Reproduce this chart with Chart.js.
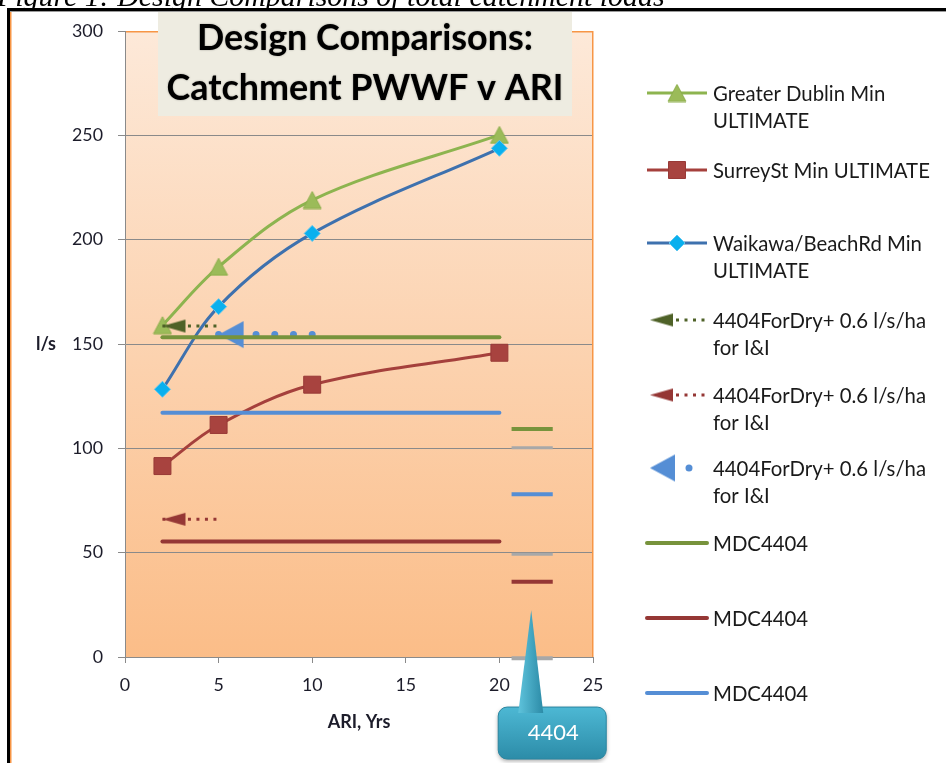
<!DOCTYPE html>
<html>
<head>
<meta charset="utf-8">
<script src="https://cdn.jsdelivr.net/npm/chart.js@4.4.1/dist/chart.umd.min.js"></script>
<style>
  html, body { margin: 0; padding: 0; background: #fff; overflow: hidden; }
  #c { display: block; }
</style>
</head>
<body>
<canvas id="c" width="946" height="763" style="width:946px;height:763px"></canvas>
<script>
// ---------------- DATA ----------------
const ariYears = [2, 5, 10, 20];
const greaterDublinMin = [159, 187, 219, 250.2];
const surreyStMin = [91.5, 111.2, 130.5, 145.8];
const waikawaBeachRdMin = [128.3, 167.9, 203, 243.8];

const forDryGreenX = [2, 5];
const forDryGreenY = [158.6, 158.6];
const forDryRedX = [2, 5];
const forDryRedY = [66, 66];
const forDryBlueX = [5, 10];
const forDryBlueY = [154.5, 154.5];

const mdcX = [2, 20];
const mdcGreenY = [153.2, 153.2];
const mdcRedY = [55.3, 55.3];
const mdcBlueY = [117.1, 117.1];

const ref4404X = [20.65, 22.85];
const ref4404Green = [109.3, 109.3];
const ref4404Blue = [78, 78];
const ref4404Red = [36.1, 36.1];
const ref4404Grey100 = [100.3, 100.3];
const ref4404Grey50 = [49.2, 49.2];
const ref4404Grey0 = [-0.6, -0.6];

const xTickValues = [0, 5, 10, 15, 20, 25];
const yTickValues = [0, 50, 100, 150, 200, 250, 300];

const seriesLabels = [
  'Greater Dublin Min\nULTIMATE',
  'SurreySt Min ULTIMATE',
  'Waikawa/BeachRd Min\nULTIMATE',
  '4404ForDry+ 0.6 l/s/ha\nfor I&I',
  '4404ForDry+ 0.6 l/s/ha\nfor I&I',
  '4404ForDry+ 0.6 l/s/ha\nfor I&I',
  'MDC4404',
  'MDC4404',
  'MDC4404'
];
const chartTitleLines = ['Design Comparisons:', 'Catchment PWWF v ARI'];
const xAxisTitle = 'ARI, Yrs';
const yAxisTitle = 'l/s';
const calloutText = '4404';
const calloutAnchor = [21.7, 22.5];
const captionText = 'Figure 1: Design Comparisons of total catchment loads';

// ---------------- HELPERS ----------------
const measureCtx = document.createElement('canvas').getContext('2d');
function fitSize(text, width, weight, family) {
  measureCtx.font = `${weight} 100px ${family}`;
  return 100 * width / measureCtx.measureText(text).width;
}
const pts = (xs, ys) => xs.map((x, i) => ({ x: x, y: ys[i] }));

function makeArrow(color, len, h) {
  const c = document.createElement('canvas');
  c.width = Math.ceil(len * 2) + 2; c.height = Math.ceil(h) + 2;
  const g = c.getContext('2d');
  const cx = c.width / 2, cy = c.height / 2;
  g.fillStyle = color;
  g.beginPath();
  g.moveTo(cx, cy);
  g.lineTo(cx + len, cy - h / 2);
  g.lineTo(cx + len, cy + h / 2);
  g.closePath();
  g.fill();
  return c;
}
function makeTriangle(fill, stroke, w, h) {
  const c = document.createElement('canvas');
  c.width = w + 2; c.height = h + 2;
  const g = c.getContext('2d');
  g.fillStyle = fill; g.strokeStyle = stroke; g.lineWidth = 1;
  g.beginPath();
  g.moveTo(c.width / 2, 1);
  g.lineTo(c.width - 1, c.height - 1);
  g.lineTo(1, c.height - 1);
  g.closePath();
  g.fill(); g.stroke();
  return c;
}

const triGreen = makeTriangle('#9BBB59', '#8CAD4B', 18, 17);
const arrowGreen = makeArrow('#4F6228', 23, 13);
const arrowRed = makeArrow('#953735', 23, 13);
const arrowBlue = makeArrow('#558ED5', 25, 27);

const tickFontSize = fitSize('300', 31, 'normal', 'Lato');
const legendFontSize = fitSize('SurreySt Min ULTIMATE', 217, 'normal', 'Lato');
const titleFontSize = fitSize(chartTitleLines[1], 397, 'bold', 'Lato');
const captionFontSize = fitSize(captionText, 668, 'italic', '"Liberation Serif"');

// legend layout (symbol centre y for each dataset)
const legendSymbolY = [93, 170, 243, 320, 395, 468, 543, 618, 693];

// ---------------- PLUGIN ----------------
const decor = {
  id: 'decor',
  beforeDraw(chart) {
    const { ctx, chartArea: a } = chart;
    ctx.save();
    ctx.fillStyle = '#fff';
    ctx.fillRect(0, 0, chart.width, chart.height);
    const g = ctx.createLinearGradient(0, a.top, 0, a.bottom);
    g.addColorStop(0, '#FDE9D9');
    g.addColorStop(1, '#FBBD88');
    ctx.fillStyle = g;
    ctx.fillRect(a.left, a.top, a.right - a.left, a.bottom - a.top);
    ctx.restore();
  },
  beforeDatasetsDraw(chart) {
    const { ctx, chartArea: a } = chart;
    ctx.save();
    ctx.strokeStyle = '#F79646';
    ctx.lineWidth = 1.5;
    ctx.beginPath();
    ctx.moveTo(a.left + 1, a.top + 0.75);
    ctx.lineTo(a.right - 0.25, a.top + 0.75);
    ctx.lineTo(a.right - 0.25, a.bottom);
    ctx.stroke();
    ctx.restore();
  },
  afterDraw(chart) {
    const { ctx, chartArea: a } = chart;
    const xs = chart.scales.x, ys = chart.scales.y;
    ctx.save();

    // --- title box ---
    ctx.fillStyle = '#EEECE1';
    ctx.fillRect(158, 10, 414, 106);
    ctx.fillStyle = '#000';
    ctx.textAlign = 'center';
    ctx.textBaseline = 'alphabetic';
    ctx.font = `bold ${titleFontSize}px Lato`;
    ctx.shadowColor = 'rgba(0,0,0,0.35)';
    ctx.shadowBlur = 2;
    ctx.fillText(chartTitleLines[0], 365, 50);
    ctx.fillText(chartTitleLines[1], 365, 100);
    ctx.shadowBlur = 0;
    ctx.shadowColor = 'transparent';

    // --- axis titles ---
    ctx.fillStyle = '#1c1c2a';
    ctx.font = `bold 18px Lato`;
    ctx.textBaseline = 'middle';
    ctx.fillText(yAxisTitle, 46, ys.getPixelForValue(150));
    ctx.fillText(xAxisTitle, (a.left + a.right) / 2, 722);

    // --- legend ---
    const x0 = 647, x1 = 707, tx = 713;
    ctx.font = `${legendFontSize}px Lato`;
    ctx.textAlign = 'left';
    ctx.textBaseline = 'alphabetic';
    chart.data.datasets.forEach((ds, i) => {
      if (i >= seriesLabels.length) return;
      const y = legendSymbolY[i];
      ctx.save();
      if (ds.legendKind === 'line') {
        ctx.strokeStyle = ds.borderColor;
        ctx.lineWidth = ds.borderWidth;
        ctx.lineCap = ds.borderCapStyle || 'butt';
        ctx.beginPath(); ctx.moveTo(x0, y); ctx.lineTo(x1, y); ctx.stroke();
        ctx.fillStyle = ds.pointBackgroundColor || ds.borderColor;
        ctx.strokeStyle = ds.pointBorderColor || ds.borderColor;
        ctx.lineWidth = ds.pointBorderWidth || 0;
        if (ds.pointStyle) {
          Chart.helpers.drawPoint(ctx, {
            pointStyle: ds.pointStyle, radius: ds.pointRadius,
            rotation: 0, borderWidth: ds.pointBorderWidth || 0
          }, (x0 + x1) / 2, y);
        }
      } else if (ds.legendKind === 'arrow') {
        ctx.strokeStyle = ds.borderColor;
        ctx.lineWidth = ds.borderWidth;
        ctx.setLineDash(ds.borderDash);
        ctx.beginPath(); ctx.moveTo(676, y); ctx.lineTo(x1 + 1, y); ctx.stroke();
        ctx.setLineDash([]);
        const img = ds.pointStyle[0];
        ctx.drawImage(img, 650 - img.width / 2, y - img.height / 2);
      } else if (ds.legendKind === 'dotArrow') {
        ctx.fillStyle = ds.borderColor;
        ctx.beginPath(); ctx.arc(689, y, 3.5, 0, Math.PI * 2); ctx.fill();
        const img = ds.pointStyle[0];
        ctx.drawImage(img, 650 - img.width / 2, y - img.height / 2);
      }
      ctx.restore();
      ctx.fillStyle = '#1a1a1a';
      const lines = ds.label.split('\n');
      lines.forEach((ln, k) => ctx.fillText(ln, tx, y + 7.5 + k * 27.6));
    });

    // --- callout ---
    const tipX = xs.getPixelForValue(calloutAnchor[0]);
    const tipY = ys.getPixelForValue(calloutAnchor[1]);
    const bx = tipX - 33, by = tipY + 97, bw = 108, bh = 52;
    ctx.shadowColor = 'rgba(0,0,0,0.35)';
    ctx.shadowBlur = 4; ctx.shadowOffsetY = 2;
    const bg = ctx.createLinearGradient(0, by, 0, by + bh);
    bg.addColorStop(0, '#4DB8D4');
    bg.addColorStop(1, '#2C8CA8');
    ctx.fillStyle = bg;
    ctx.beginPath();
    ctx.roundRect(bx, by, bw, bh, 9);
    ctx.fill();
    ctx.shadowBlur = 0; ctx.shadowOffsetY = 0; ctx.shadowColor = 'transparent';
    ctx.strokeStyle = '#2A86A0'; ctx.lineWidth = 1;
    ctx.stroke();
    const pg = ctx.createLinearGradient(tipX - 13, 0, tipX + 13, 0);
    pg.addColorStop(0, '#5EC3DC');
    pg.addColorStop(1, '#2A89A5');
    ctx.fillStyle = pg;
    ctx.beginPath();
    ctx.moveTo(tipX, tipY);
    ctx.lineTo(tipX + 12, by + 6);
    ctx.lineTo(tipX - 13, by + 6);
    ctx.closePath();
    ctx.fill();
    ctx.fillStyle = '#fff';
    ctx.textAlign = 'center';
    ctx.textBaseline = 'middle';
    ctx.font = `${fitSize(calloutText, 51, 'normal', 'Lato')}px Lato`;
    ctx.fillText(calloutText, bx + bw / 2 + 1, by + bh / 2);

    // --- document caption and frame ---
    ctx.fillStyle = '#000';
    ctx.textAlign = 'left';
    ctx.textBaseline = 'alphabetic';
    ctx.font = `italic ${captionFontSize}px "Liberation Serif"`;
    ctx.fillText(captionText, -3, 5.5);
    ctx.fillStyle = '#000';
    ctx.fillRect(7, 8, chart.width - 7, 3);
    ctx.fillRect(7, 8, 3, chart.height - 8);
    ctx.fillStyle = '#F79646';
    ctx.fillRect(10, 11, 1.5, chart.height - 11);
    ctx.fillStyle = '#9a9a9a';
    ctx.fillRect(10, 11, chart.width - 10, 1);
    ctx.restore();
  }
};

// ---------------- CHART ----------------
const N = 20;
const datasets = [
  { label: seriesLabels[0], data: pts(ariYears, greaterDublinMin), legendKind: 'line',
    borderColor: '#8DB44F', borderWidth: 3, tension: 0.35,
    pointStyle: triGreen, pointRadius: 9 },
  { label: seriesLabels[1], data: pts(ariYears, surreyStMin), legendKind: 'line',
    borderColor: '#A5403C', borderWidth: 3, tension: 0.35,
    pointStyle: 'rect', pointRadius: 12, pointBackgroundColor: '#A8433F',
    pointBorderColor: '#983936', pointBorderWidth: 1 },
  { label: seriesLabels[2], data: pts(ariYears, waikawaBeachRdMin), legendKind: 'line',
    borderColor: '#3E71AE', borderWidth: 3, tension: 0.35,
    pointStyle: 'rectRot', pointRadius: 8, pointBackgroundColor: '#0AB0EE',
    pointBorderColor: '#5CC6F0', pointBorderWidth: 1 },
  { label: seriesLabels[3], data: pts(forDryGreenX, forDryGreenY), legendKind: 'arrow',
    borderColor: '#4F6228', borderWidth: 3, borderDash: [3, 5.5],
    pointStyle: [arrowGreen, arrowGreen], pointRadius: [10, 0] },
  { label: seriesLabels[4], data: pts(forDryRedX, forDryRedY), legendKind: 'arrow',
    borderColor: '#953735', borderWidth: 3, borderDash: [3, 5.5],
    pointStyle: [arrowRed, arrowRed], pointRadius: [10, 0] },
  { label: seriesLabels[5], data: pts(forDryBlueX, forDryBlueY), legendKind: 'dotArrow',
    borderColor: '#558ED5', borderWidth: 7, borderDash: [0.01, 18.71], borderCapStyle: 'round',
    pointStyle: [arrowBlue, arrowBlue], pointRadius: [12, 0] },
  { label: seriesLabels[6], data: pts(mdcX, mdcGreenY), legendKind: 'line',
    borderColor: '#77933C', borderWidth: 4, borderCapStyle: 'round', pointRadius: 0 },
  { label: seriesLabels[7], data: pts(mdcX, mdcRedY), legendKind: 'line',
    borderColor: '#953735', borderWidth: 4, borderCapStyle: 'round', pointRadius: 0 },
  { label: seriesLabels[8], data: pts(mdcX, mdcBlueY), legendKind: 'line',
    borderColor: '#558ED5', borderWidth: 4, borderCapStyle: 'round', pointRadius: 0 },
  { label: '4404', data: pts(ref4404X, ref4404Green), borderColor: '#77933C', borderWidth: 4, pointRadius: 0 },
  { label: '4404', data: pts(ref4404X, ref4404Blue), borderColor: '#558ED5', borderWidth: 4, pointRadius: 0 },
  { label: '4404', data: pts(ref4404X, ref4404Red), borderColor: '#953735', borderWidth: 4, pointRadius: 0 },
  { label: '4404', data: pts(ref4404X, ref4404Grey100), borderColor: '#A8A8A8', borderWidth: 3, pointRadius: 0 },
  { label: '4404', data: pts(ref4404X, ref4404Grey50), borderColor: '#A8A8A8', borderWidth: 3, pointRadius: 0 },
  { label: '4404', data: pts(ref4404X, ref4404Grey0), borderColor: '#A8A8A8', borderWidth: 4, pointRadius: 0 }
];
datasets.forEach((d, i) => { d.order = N - i; d.clip = false; d.fill = false; });

new Chart(document.getElementById('c'), {
  type: 'line',
  data: { datasets: datasets },
  plugins: [decor],
  options: {
    responsive: false,
    animation: false,
    events: [],
    layout: { padding: { top: 31, right: 353, left: 0, bottom: 0 } },
    plugins: { legend: { display: false }, tooltip: { enabled: false }, title: { display: false } },
    scales: {
      x: {
        type: 'linear', min: 0, max: 25,
        afterBuildTicks: s => { s.ticks = xTickValues.map(v => ({ value: v })); },
        grid: { drawOnChartArea: false, drawTicks: true, tickLength: 6, color: '#8A8A8A' },
        border: { color: '#8A8A8A', width: 1 },
        ticks: { font: { family: 'Lato', size: tickFontSize }, color: '#1c1c2a', padding: 12, maxRotation: 0 },
        afterFit: s => { s.height = 106; }
      },
      y: {
        type: 'linear', min: 0, max: 300,
        afterBuildTicks: s => { s.ticks = yTickValues.map(v => ({ value: v })); },
        grid: { color: '#8A8A8A', tickLength: 7 },
        border: { color: '#8A8A8A', width: 1 },
        ticks: { font: { family: 'Lato', size: tickFontSize }, color: '#1c1c2a', padding: 15 },
        afterFit: s => { s.width = 125; }
      }
    }
  }
});
</script>
</body>
</html>
